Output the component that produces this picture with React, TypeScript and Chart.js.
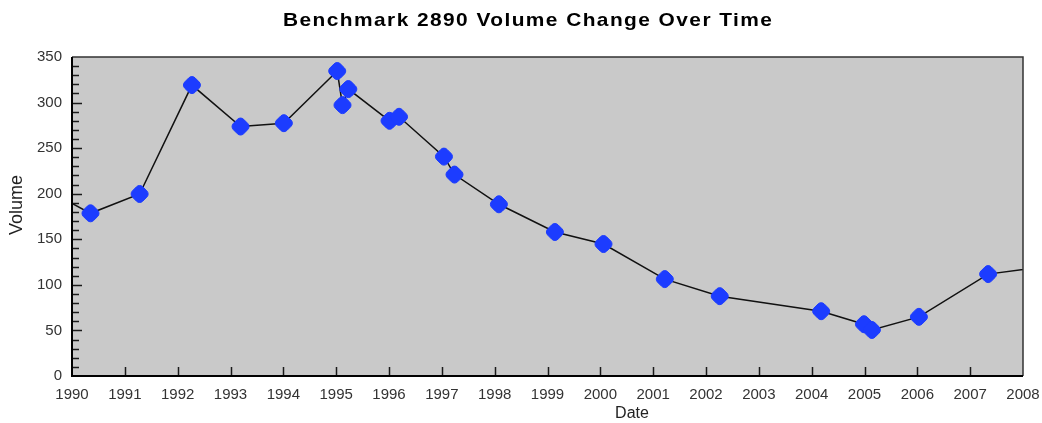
import React, { useEffect, useRef } from "react";
import { Chart, registerables } from "chart.js";

Chart.register(...registerables);

// Data (decimal years, volume)
const years: number[] = [1989.75, 1990.35, 1991.28, 1992.27, 1993.19, 1994.01, 1995.02, 1995.12, 1995.23, 1996.01, 1996.19, 1997.04, 1997.24, 1998.08, 1999.14, 2000.06, 2001.22, 2002.26, 2004.18, 2004.99, 2005.14, 2006.03, 2007.34, 2008.6];
const volumes: number[] = [197, 178.5, 199.7, 319.2, 273.7, 277.4, 334.6, 297.2, 314.8, 280, 284.4, 240.7, 221, 188.4, 158, 144.8, 106.3, 87.6, 71.1, 56.8, 50.5, 64.9, 111.8, 121.5];
const xTickYears: number[] = [1990, 1991, 1992, 1993, 1994, 1995, 1996, 1997, 1998, 1999, 2000, 2001, 2002, 2003, 2004, 2005, 2006, 2007, 2008];
const yTickValues: number[] = [0, 50, 100, 150, 200, 250, 300, 350];
const titleText = "Benchmark 2890 Volume Change Over Time";
const xTitle = "Date";
const yTitle = "Volume";

const FONT = "'Liberation Sans', Arial, Helvetica, sans-serif";

const decorPlugin = {
  id: "decor",
  beforeDatasetsDraw(chart: any) {
    const { ctx, chartArea: a } = chart;
    ctx.save();
    ctx.fillStyle = "#c9c9c9";
    ctx.fillRect(a.left, a.top, a.right - a.left, a.bottom - a.top);
    ctx.restore();
  },
  afterDatasetsDraw(chart: any) {
    const { ctx, chartArea: a, scales } = chart;
    const x = scales.x;
    const y = scales.y;
    ctx.save();
    ctx.strokeStyle = "#1a1a1a";
    ctx.lineWidth = 1.5;
    const yMin = yTickValues[0];
    const yMax = yTickValues[yTickValues.length - 1];
    for (let v = yMin + 10; v < yMax; v += 10) {
      const py = Math.round(y.getPixelForValue(v)) + 0.5;
      const len = v % 50 === 0 ? 10 : 7;
      ctx.beginPath();
      ctx.moveTo(a.left, py);
      ctx.lineTo(a.left + len, py);
      ctx.stroke();
    }
    for (let i = 1; i < xTickYears.length - 1; i++) {
      const px = Math.round(x.getPixelForValue(xTickYears[i])) + 0.5;
      ctx.beginPath();
      ctx.moveTo(px, a.bottom);
      ctx.lineTo(px, a.bottom - 9);
      ctx.stroke();
    }
    ctx.strokeStyle = "#333";
    ctx.lineWidth = 1.5;
    ctx.beginPath();
    ctx.moveTo(a.left, a.top);
    ctx.lineTo(a.right, a.top);
    ctx.lineTo(a.right, a.bottom);
    ctx.stroke();
    ctx.strokeStyle = "#000";
    ctx.lineWidth = 2;
    ctx.beginPath();
    ctx.moveTo(a.left, a.top);
    ctx.lineTo(a.left, a.bottom);
    ctx.lineTo(a.right, a.bottom);
    ctx.stroke();
    ctx.restore();
  },
  afterDraw(chart: any) {
    const { ctx } = chart;
    ctx.save();
    // title (slightly widened, as in the reference)
    ctx.fillStyle = "#000";
    ctx.font = `bold 19px ${FONT}`;
    (ctx as any).letterSpacing = "1.3px";
    ctx.textAlign = "left";
    ctx.textBaseline = "alphabetic";
    ctx.save();
    ctx.translate(283, 25.5);
    ctx.scale(1.1, 1);
    ctx.fillText(titleText, 0, 0);
    ctx.restore();
    (ctx as any).letterSpacing = "0px";
    // x title
    ctx.fillStyle = "#222";
    ctx.font = `16px ${FONT}`;
    ctx.textAlign = "center";
    ctx.fillText(xTitle, 632, 418);
    // y title
    ctx.translate(22, 205);
    ctx.rotate(-Math.PI / 2);
    ctx.font = `18px ${FONT}`;
    ctx.textAlign = "center";
    ctx.fillText(yTitle, 0, 0);
    ctx.restore();
  },
};

export default function App() {
  const canvasRef = useRef<HTMLCanvasElement | null>(null);

  useEffect(() => {
    document.body.style.margin = "0";
    document.body.style.overflow = "hidden";
    const canvas = canvasRef.current;
    if (!canvas) return;
    const points = years.map((yr, i) => ({ x: yr, y: volumes[i] }));
    const radii = years.map((yr) => (yr < xTickYears[0] || yr > xTickYears[xTickYears.length - 1] ? 0 : 8.5));
    const chart = new Chart(canvas, {
      type: "line",
      data: {
        datasets: [
          {
            label: yTitle,
            data: points,
            borderColor: "#111",
            borderWidth: 1.5,
            tension: 0,
            pointStyle: "rectRounded",
            pointRotation: 45,
            pointRadius: radii,
            pointBackgroundColor: "#1c3cff",
            pointBorderColor: "#1c3cff",
            pointBorderWidth: 1,
          },
        ],
      },
      options: {
        animation: false,
        responsive: true,
        maintainAspectRatio: false,
        layout: { padding: { top: 57, right: 19, left: 0, bottom: 0 } },
        plugins: {
          legend: { display: false },
          title: { display: false },
          tooltip: { enabled: false },
        },
        scales: {
          x: {
            type: "linear",
            min: xTickYears[0],
            max: xTickYears[xTickYears.length - 1],
            grid: { display: false, drawTicks: false },
            border: { display: false },
            afterFit: (s: any) => {
              s.height = 47;
              s.paddingLeft = 0;
              s.paddingRight = 0;
            },
            afterBuildTicks: (s: any) => {
              s.ticks = xTickYears.map((v) => ({ value: v }));
            },
            ticks: {
              autoSkip: false,
              maxRotation: 0,
              padding: 10,
              color: "#333",
              font: { family: FONT, size: 15 },
              callback: (v: any) => String(v),
            },
          },
          y: {
            min: yTickValues[0],
            max: yTickValues[yTickValues.length - 1],
            grid: { display: false, drawTicks: false },
            border: { display: false },
            afterFit: (s: any) => {
              s.width = 72;
              s.paddingTop = 0;
              s.paddingBottom = 0;
            },
            afterBuildTicks: (s: any) => {
              s.ticks = yTickValues.map((v) => ({ value: v }));
            },
            ticks: {
              padding: 10,
              color: "#333",
              font: { family: FONT, size: 15 },
              callback: (v: any) => String(v),
            },
          },
        },
      },
      plugins: [decorPlugin],
    });
    return () => chart.destroy();
  }, []);

  return (
    <div style={{ position: "relative", width: "1042px", height: "423px" }}>
      <canvas ref={canvasRef} />
    </div>
  );
}
